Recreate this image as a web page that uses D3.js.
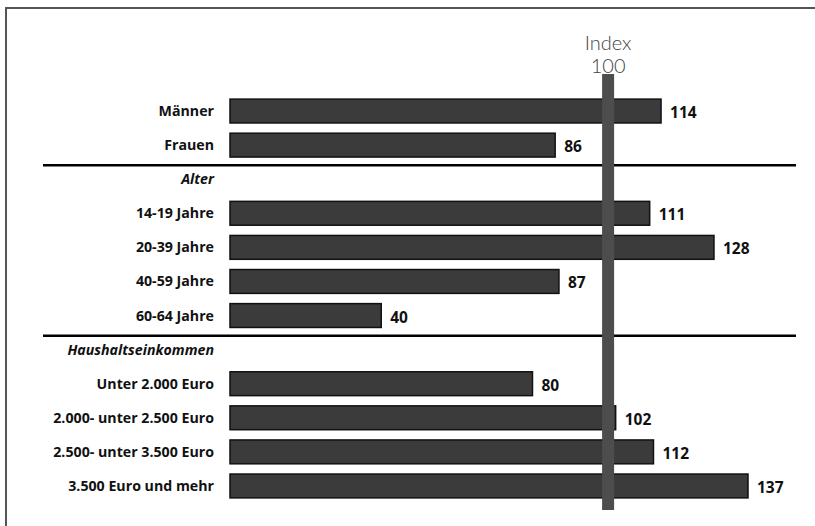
<!DOCTYPE html>
<html>
<head>
<meta charset="utf-8">
<script src="https://cdn.jsdelivr.net/npm/d3@7.9.0/dist/d3.min.js"></script>
<style>
  body { margin: 0; background: #fff; }
  svg { display: block; }
</style>
</head>
<body>
<div id="chart"></div>
<script>
// rows top to bottom; null value = group heading
const labels = [
  "Männer", "Frauen",
  "Alter", "14-19 Jahre", "20-39 Jahre", "40-59 Jahre", "60-64 Jahre",
  "Haushaltseinkommen", "Unter 2.000 Euro", "2.000- unter 2.500 Euro",
  "2.500- unter 3.500 Euro", "3.500 Euro und mehr"
];
const values = [114, 86, null, 111, 128, 87, 40, null, 80, 102, 112, 137];
const headings = ["Alter", "Haushaltseinkommen"];
const indexValue = 100;

const width = 815, height = 526;

let svg = d3.select("#chart")
    .append("svg")
    .attr("width", width)
    .attr("height", height);

// frame (only top and left visible)
svg.append("path")
    .attr("d", "M6,526 V8 H815")
    .attr("fill", "none")
    .attr("stroke", "#555")
    .attr("stroke-width", 2);

let x = d3.scaleLinear().domain([0, 137]).range([230, 748]);

let y = d3.scaleBand()
    .domain(labels)
    .range([94, 503])
    .paddingInner(0.3)
    .paddingOuter(0.15);

let rows = labels.map((l, i) => ({ label: l, value: values[i] }));
let bars = rows.filter(d => d.value !== null);

// separator lines above each heading
svg.selectAll("line.sep")
    .data(headings)
    .enter().append("line")
    .attr("class", "sep")
    .attr("x1", 43).attr("x2", 796)
    .attr("y1", d => y(d) + y.bandwidth() / 2 - 14)
    .attr("y2", d => y(d) + y.bandwidth() / 2 - 14)
    .attr("stroke", "#000")
    .attr("stroke-width", 2.5);

svg.selectAll("rect.bar")
    .data(bars)
    .enter().append("rect")
    .attr("class", "bar")
    .attr("x", x(0))
    .attr("y", d => y(d.label))
    .attr("width", d => x(d.value) - x(0))
    .attr("height", y.bandwidth())
    .attr("fill", "#3b3b3b")
    .attr("stroke", "#111")
    .attr("stroke-width", 1.5);

// category labels
svg.selectAll("text.lab")
    .data(rows)
    .enter().append("text")
    .attr("class", "lab")
    .attr("x", 214)
    .attr("y", d => y(d.label) + y.bandwidth() / 2 + 5)
    .attr("text-anchor", "end")
    .attr("font-family", "'Open Sans', sans-serif")
    .attr("font-weight", 700)
    .attr("font-style", d => d.value === null ? "italic" : "normal")
    .attr("font-size", 14.2)
    .attr("fill", "#111")
    .text(d => d.label);

// value labels
svg.selectAll("text.val")
    .data(bars)
    .enter().append("text")
    .attr("class", "val")
    .attr("x", d => x(d.value) + 9)
    .attr("y", d => y(d.label) + y.bandwidth() / 2 + 7)
    .attr("font-family", "'Open Sans', sans-serif")
    .attr("font-weight", 700)
    .attr("font-size", 15.5)
    .attr("fill", "#111")
    .text(d => d.value);

// index 100 reference bar
svg.append("rect")
    .attr("x", x(indexValue) - 6)
    .attr("y", 74)
    .attr("width", 12)
    .attr("height", 436)
    .attr("fill", "#4d4d4d");

svg.append("text")
    .attr("x", x(indexValue))
    .attr("y", 50)
    .attr("text-anchor", "middle")
    .attr("font-family", "Lato, sans-serif")
    .attr("font-weight", 300)
    .attr("font-size", 20)
    .attr("fill", "#444")
    .text("Index");

svg.append("text")
    .attr("x", x(indexValue))
    .attr("y", 73)
    .attr("text-anchor", "middle")
    .attr("font-family", "Lato, sans-serif")
    .attr("font-weight", 300)
    .attr("font-size", 20)
    .attr("fill", "#444")
    .text(indexValue);
</script>
</body>
</html>
